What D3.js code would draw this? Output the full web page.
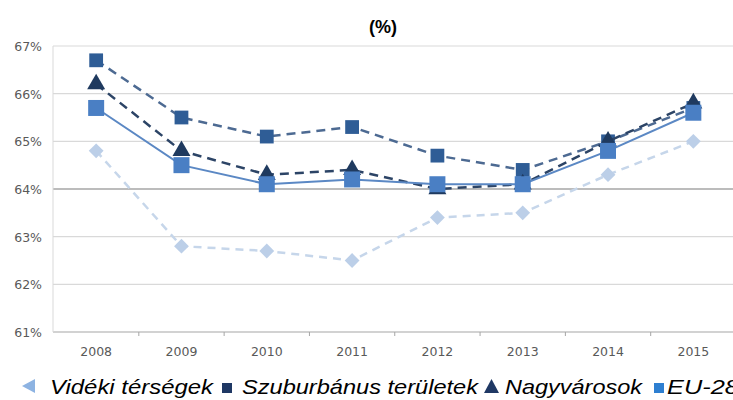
<!DOCTYPE html>
<html>
<head>
<script src="https://d3js.org/d3.v7.min.js"></script>
<style>
  body { margin: 0; background: #fff; }
  svg { display: block; }
</style>
</head>
<body>
<script>
// data
var years = ["2008", "2009", "2010", "2011", "2012", "2013", "2014", "2015"];
var videki = [64.8, 62.8, 62.7, 62.5, 63.4, 63.5, 64.3, 65.0];
var szuburban = [66.7, 65.5, 65.1, 65.3, 64.7, 64.4, 65.0, 65.7];
var nagyvaros = [66.2, 64.8, 64.3, 64.4, 64.0, 64.1, 65.0, 65.8];
var eu28 = [65.7, 64.5, 64.1, 64.2, 64.1, 64.1, 64.8, 65.6];
var yTicks = [61, 62, 63, 64, 65, 66, 67];
var legendNames = ["Vidéki térségek", "Szuburbánus területek", "Nagyvárosok", "EU-28"];

var width = 733, height = 400;
var svg = d3.select("body").append("svg")
    .attr("width", width)
    .attr("height", height);

var x = d3.scaleBand().domain(years).range([53.5, 736]);
var y = d3.scaleLinear().domain([61, 67]).range([332, 46]);

function cx(i) { return x(years[i]) + x.bandwidth() / 2; }

// gridlines
svg.selectAll(".grid")
    .data(yTicks)
    .enter().append("line")
    .attr("x1", 53).attr("x2", width)
    .attr("y1", function(d) { return y(d); })
    .attr("y2", function(d) { return y(d); })
    .attr("stroke", function(d) { return d == 64 || d == 61 ? "#a6a6a6" : "#d9d9d9"; })
    .attr("stroke-width", function(d) { return d == 64 ? 1.5 : 1.2; });

svg.append("line")
    .attr("x1", 53).attr("x2", 53)
    .attr("y1", y(67)).attr("y2", y(61))
    .attr("stroke", "#d9d9d9");

// x ticks between categories
svg.selectAll(".xtick")
    .data(years.slice(1))
    .enter().append("line")
    .attr("x1", function(d) { return x(d); })
    .attr("x2", function(d) { return x(d); })
    .attr("y1", y(61)).attr("y2", y(61) + 4)
    .attr("stroke", "#a6a6a6");

// axis labels
svg.selectAll(".ylab")
    .data(yTicks)
    .enter().append("text")
    .attr("x", 42)
    .attr("y", function(d) { return y(d) + 5; })
    .attr("text-anchor", "end")
    .attr("font-family", "Verdana, DejaVu Sans, sans-serif")
    .attr("font-size", 12.5)
    .attr("fill", "#595959")
    .text(function(d) { return d + "%"; });

svg.selectAll(".xlab")
    .data(years)
    .enter().append("text")
    .attr("x", function(d) { return x(d) + x.bandwidth() / 2; })
    .attr("y", 356)
    .attr("text-anchor", "middle")
    .attr("font-family", "Verdana, DejaVu Sans, sans-serif")
    .attr("font-size", 12.5)
    .attr("fill", "#595959")
    .text(function(d) { return d; });

// title
svg.append("text")
    .attr("x", 383).attr("y", 33)
    .attr("text-anchor", "middle")
    .attr("font-family", "Liberation Sans, Arial, sans-serif")
    .attr("font-weight", "bold")
    .attr("font-size", 18)
    .text("(%)");

var line = d3.line()
    .x(function(d, i) { return cx(i); })
    .y(function(d) { return y(d); });

function drawSeries(values, lineColor, markColor, dash, lw, symbol, size, rot) {
    svg.append("path")
        .datum(values)
        .attr("d", line)
        .attr("fill", "none")
        .attr("stroke", lineColor)
        .attr("stroke-width", lw)
        .attr("stroke-dasharray", dash);
    svg.append("g").selectAll("path")
        .data(values)
        .enter().append("path")
        .attr("transform", function(d, i) {
            return "translate(" + cx(i) + "," + y(d) + ") rotate(" + rot + ")";
        })
        .attr("d", d3.symbol().type(symbol).size(size))
        .attr("fill", markColor);
}

drawSeries(videki, "#c6d6ea", "#bccfe8", "8,6", 2.5, d3.symbolSquare, 110, 45);
drawSeries(szuburban, "#4d6a92", "#2f5d96", "9,6", 2.5, d3.symbolSquare, 190, 0);
drawSeries(nagyvaros, "#2c4466", "#1f3a5f", "9,6", 2.5, d3.symbolTriangle, 140, 0);
drawSeries(eu28, "#5b88c4", "#4a7fc4", null, 2, d3.symbolSquare, 256, 0);

// legend
var lg = svg.append("g").attr("font-family", "Liberation Sans, Arial, sans-serif")
    .attr("font-style", "italic").attr("font-size", 21);
lg.append("path").attr("d", "M22,386 L35,379 L35,393 Z").attr("fill", "#8db3e2");
lg.append("rect").attr("x", 222).attr("y", 383).attr("width", 10).attr("height", 10).attr("fill", "#1f3864");
lg.append("path").attr("d", "M484,393 L491.5,379 L499,393 Z").attr("fill", "#1f3864");
lg.append("rect").attr("x", 654).attr("y", 383).attr("width", 10).attr("height", 10).attr("fill", "#2e7fd1");

var legendX = [50, 242, 505, 667];
var legendLen = [163, 236, 137, 72];
lg.selectAll("text")
    .data(legendNames)
    .enter().append("text")
    .attr("x", function(d, i) { return legendX[i]; })
    .attr("y", 394)
    .attr("textLength", function(d, i) { return legendLen[i]; })
    .attr("lengthAdjust", "spacingAndGlyphs")
    .text(function(d) { return d; });
</script>
</body>
</html>
